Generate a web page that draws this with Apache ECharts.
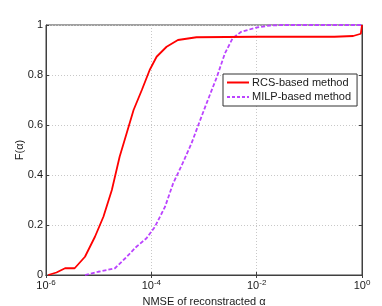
<!DOCTYPE html>
<html><head><meta charset="utf-8">
<script src="https://cdn.jsdelivr.net/npm/echarts@6/dist/echarts.min.js"></script>
<style>html,body{margin:0;padding:0;background:#fff}#c{width:382px;height:306px}</style>
</head><body><div id="c"></div>
<script>
// NMSE values (x) and CDF values (y)
var rcsX = [1.1e-6,1.58e-6,2.3e-6,3.5e-6,5.5e-6,8.5e-6,1.23e-5,1.78e-5,2.5e-5,3.4e-5,4.6e-5,6.6e-5,9.3e-5,1.26e-4,1.95e-4,3.2e-4,7.2e-4,1e-2,0.3,0.68,0.95,1];
var rcsY = [0,0.01,0.027,0.027,0.073,0.153,0.233,0.34,0.473,0.567,0.66,0.74,0.82,0.873,0.913,0.94,0.951,0.953,0.953,0.956,0.965,1];
var milpX = [5.5e-6,9.8e-6,2.04e-5,3.2e-5,5.2e-5,8.1e-5,1.17e-4,1.82e-4,2.6e-4,3.8e-4,5.8e-4,7.8e-4,1.12e-3,1.74e-3,2.5e-3,3.5e-3,5.1e-3,1e-2,1.8e-2,3.2e-2,1];
var milpY = [0,0.013,0.027,0.067,0.113,0.147,0.193,0.273,0.367,0.44,0.527,0.6,0.687,0.79,0.887,0.947,0.973,0.99,0.998,1,1];
var seriesNames = ['RCS-based method','MILP-based method'];
var yTicks = [0,0.2,0.4,0.6,0.8,1];

function pairs(xs, ys){ return xs.map(function(x,i){return [x, ys[i]];}); }
var font = 'Liberation Sans, Arial, sans-serif';
var axisCol = '#404040';
var chart = echarts.init(document.getElementById('c'));
chart.setOption({
  animation:false,
  textStyle:{fontFamily:font},
  grid:{left:46, top:25, right:20, bottom:31, outerBoundsMode:'none', containLabel:false, show:true, borderColor:axisCol, borderWidth:1, backgroundColor:'transparent'},
  xAxis:[{
    type:'log', logBase:10, min:1e-6, max:1, interval:2,
    name:'NMSE of reconstracted \u03b1', nameLocation:'middle', nameGap:21, nameMoveOverlap:false,
    nameTextStyle:{fontSize:11, color:'#1a1a1a', fontFamily:font},
    axisLine:{show:true, lineStyle:{color:axisCol}},
    axisTick:{inside:true, length:3, lineStyle:{color:axisCol}},
    minorTick:{show:false},
    splitLine:{show:true, lineStyle:{color:'#c8c8c8', type:[1,2]}},
    axisLabel:{margin:4, color:'#1a1a1a', fontSize:11,
      formatter:function(v){ var e=Math.round(Math.log10(v)); return '{b|10}{s|'+e+'}'; },
      rich:{b:{fontSize:11, color:'#1a1a1a', fontFamily:font}, s:{fontSize:8, color:'#1a1a1a', fontFamily:font, verticalAlign:'top', padding:[0,0,6,0]}}
    }
  },{
    type:'log', logBase:10, min:1e-6, max:1, interval:2, position:'top',
    axisLine:{show:true, lineStyle:{color:axisCol}},
    axisTick:{show:true, inside:true, length:3, lineStyle:{color:axisCol}},
    axisLabel:{show:false}, splitLine:{show:false}
  }],
  yAxis:[{
    type:'value', min:0, max:1, interval:0.2,
    name:'F(\u03b1)', nameLocation:'middle', nameGap:21, nameRotate:90, nameMoveOverlap:false,
    nameTextStyle:{fontSize:11, color:'#1a1a1a', fontFamily:font},
    axisLine:{show:true, lineStyle:{color:axisCol}},
    axisTick:{show:true, inside:true, length:3, lineStyle:{color:axisCol}},
    splitLine:{show:true, lineStyle:{color:'#c8c8c8', type:[1,2]}},
    axisLabel:{margin:3, color:'#1a1a1a', fontSize:11,
      formatter:function(v){ return yTicks.indexOf(Math.round(v*10)/10)>=0 ? String(Math.round(v*10)/10) : ''; }}
  },{
    type:'value', min:0, max:1, interval:0.2, position:'right',
    axisLine:{show:true, lineStyle:{color:axisCol}},
    axisTick:{show:true, inside:true, length:3, lineStyle:{color:axisCol}},
    axisLabel:{show:false}, splitLine:{show:false}
  }],
  legend:{
    left:223, top:74, orient:'vertical',
    backgroundColor:'#fff', borderColor:'#333', borderWidth:1,
    padding:[3,6,3,4], itemGap:3, itemWidth:22, itemHeight:12,
    textStyle:{fontSize:11, color:'#1a1a1a', fontFamily:font, padding:[0,0,0,-2]},
    data:[
      {name:seriesNames[0], icon:'path://M0,5L22,5L22,7L0,7Z'},
      {name:seriesNames[1], icon:'path://M0,5h3v2h-3z M5,5h3v2h-3z M10,5h3v2h-3z M15,5h3v2h-3z M20,5h2v2h-2z M0,0h0.01v0.01h-0.01z M22,12h0.01v0.01h-0.01z'}
    ]
  },
  series:[
    {name:seriesNames[0], type:'line', symbol:'none', data:pairs(rcsX,rcsY), lineStyle:{color:'#ff0000', width:1.8}, itemStyle:{color:'#ff0000'}, z:3},
    {name:seriesNames[1], type:'line', symbol:'none', data:pairs(milpX,milpY), lineStyle:{color:'#bb44ff', width:1.8, type:[4,2]}, itemStyle:{color:'#bb44ff'}, z:2}
  ]
});
</script></body></html>
